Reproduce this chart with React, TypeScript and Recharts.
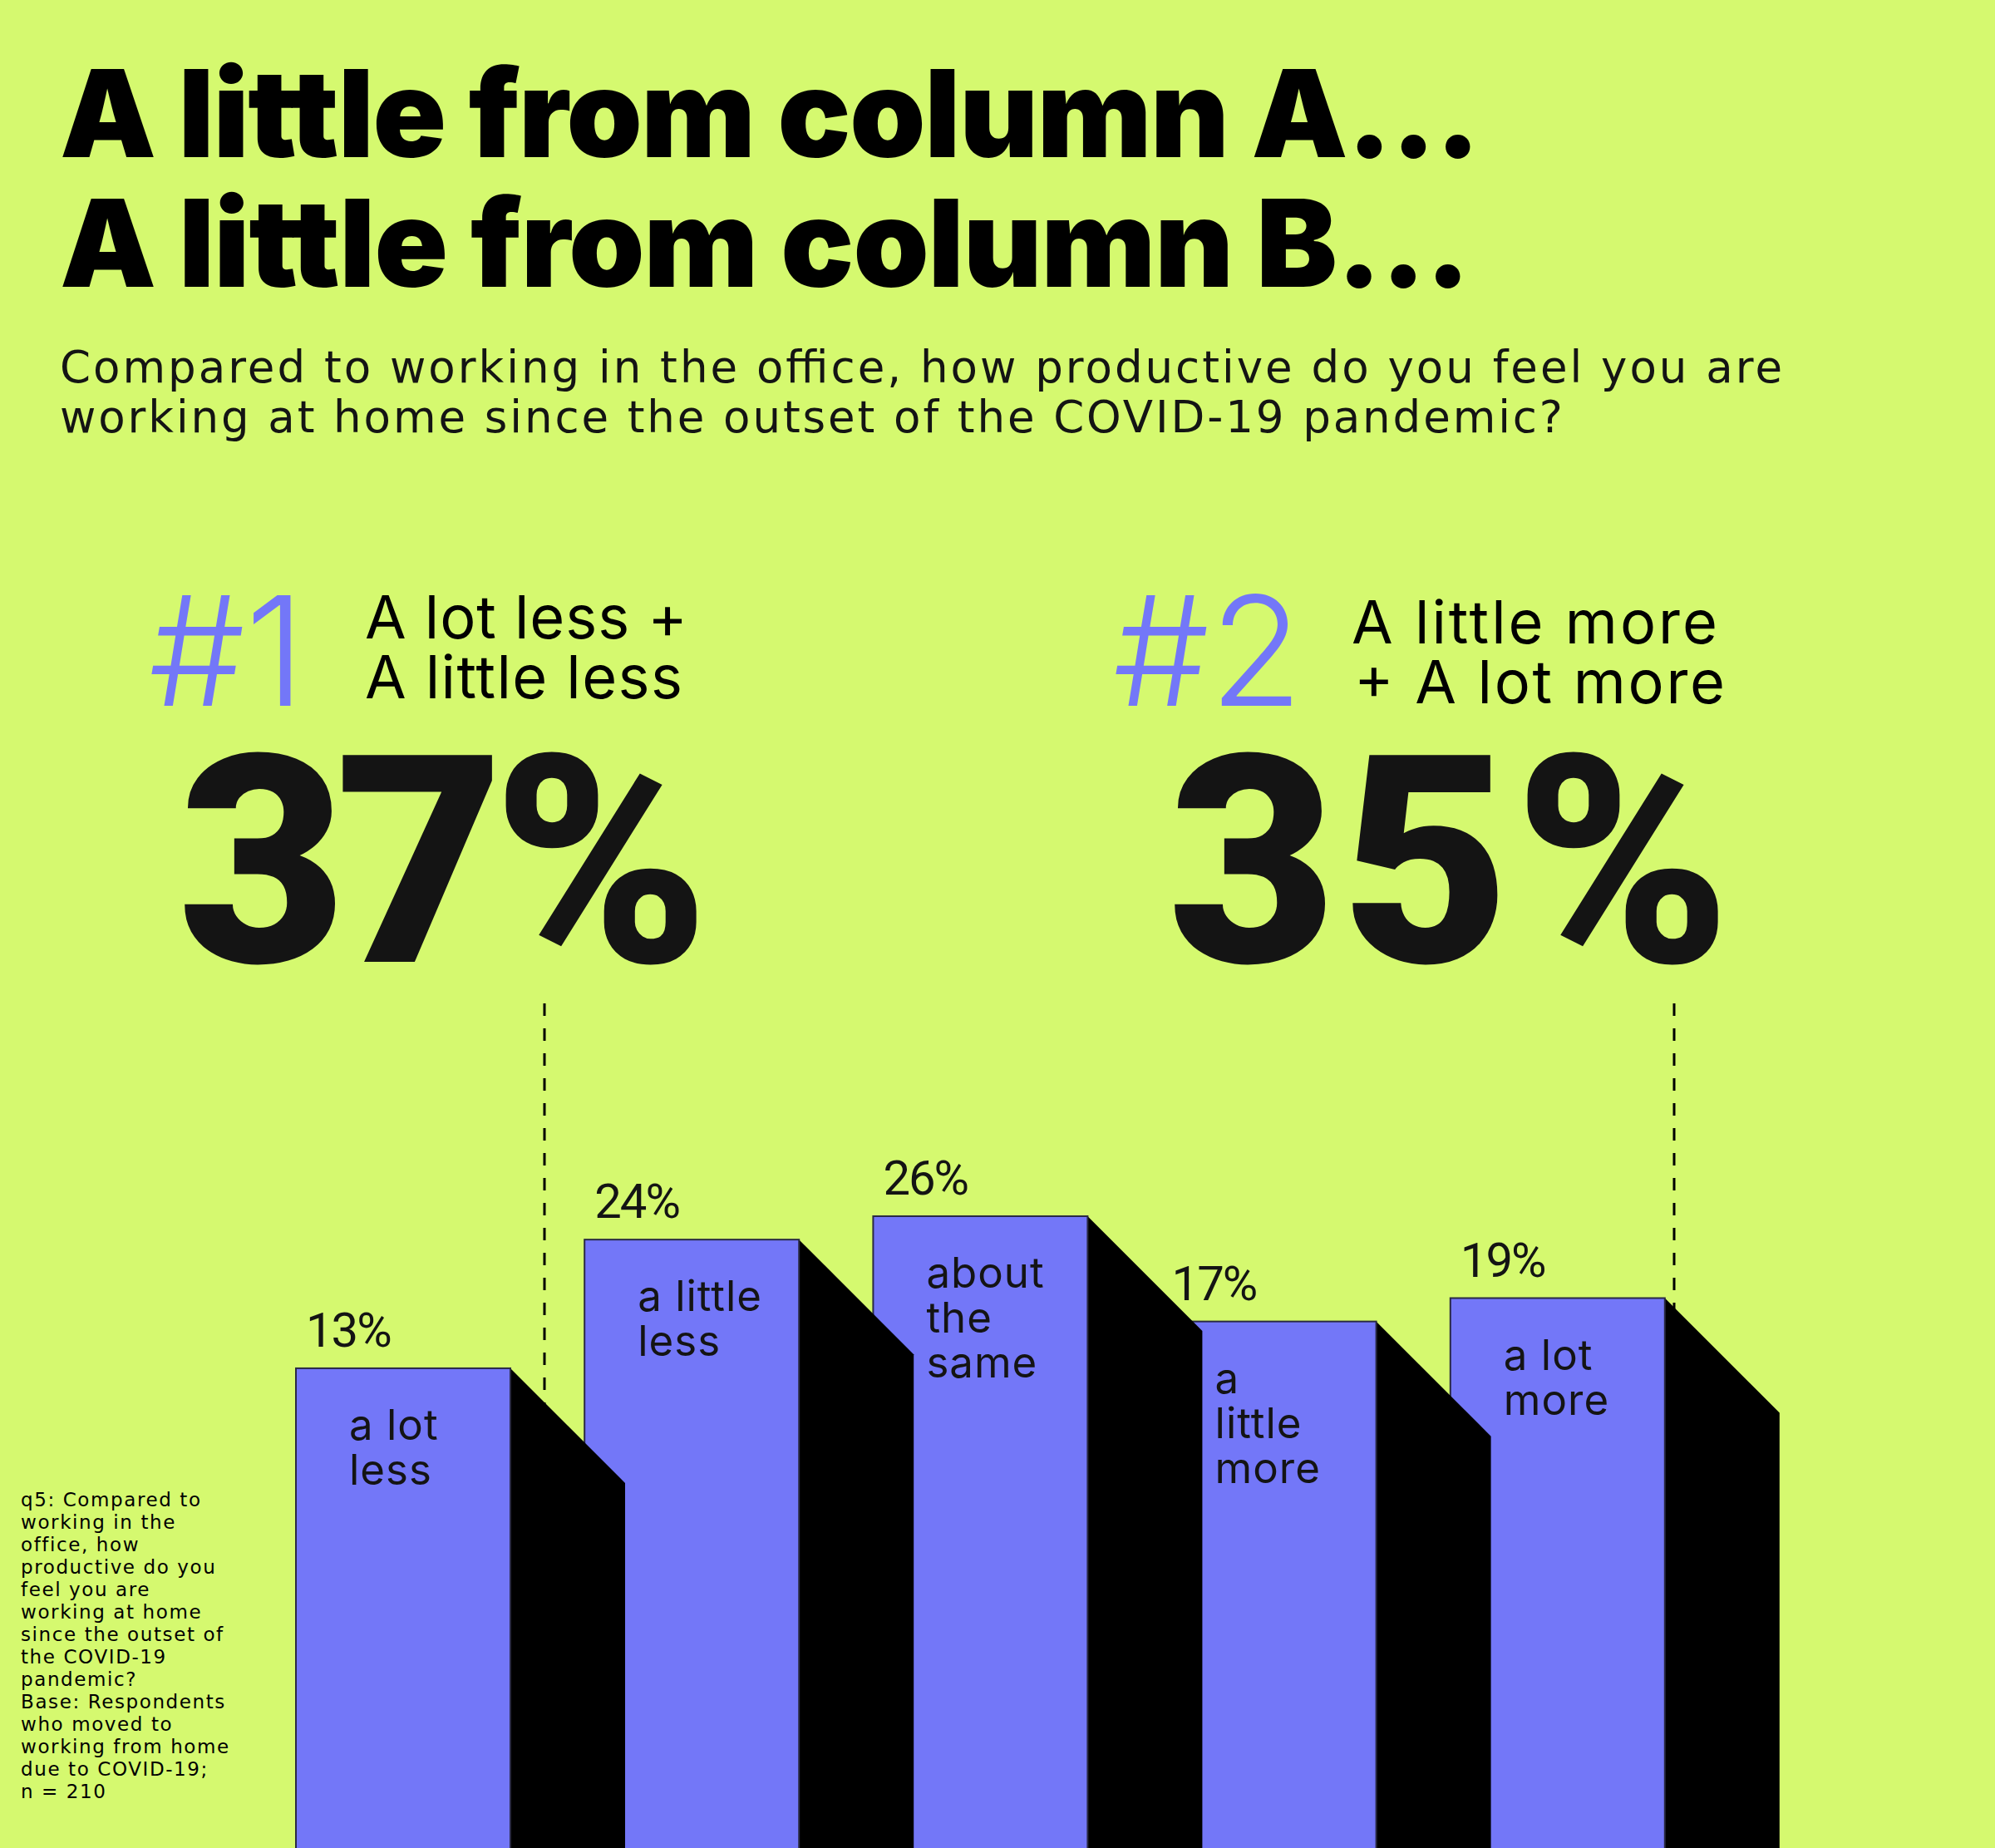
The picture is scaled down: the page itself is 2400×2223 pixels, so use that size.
import { BarChart, Bar, XAxis, YAxis, LabelList } from "recharts";

// answer options, left to right
const categories = ["a lot less", "a little less", "about the same", "a little more", "a lot more"];
const barLines = [["a lot", "less"], ["a little", "less"], ["about", "the", "same"], ["a", "little", "more"], ["a lot", "more"]];
const shares = [13, 24, 26, 17, 19];

const titleLines = ["A little from column A...", "A little from column B..."];
const subtitleLines = [
  "Compared to working in the office, how productive do you feel you are",
  "working at home since the outset of the COVID-19 pandemic?",
];
const rankTags = ["#1", "#2"];
const rankLabels = [["A lot less +", "A little less"], ["A little more", "+ A lot more"]];
const rankTotals = [37, 35];
const footnoteLines = [
  "q5: Compared to",
  "working in the",
  "office, how",
  "productive do you",
  "feel you are",
  "working at home",
  "since the outset of",
  "the COVID-19",
  "pandemic?",
  "Base: Respondents",
  "who moved to",
  "working from home",
  "due to COVID-19;",
  "n = 210",
];

const LIME = "#d5f96f";
const PURPLE = "#7377f8";
const INK = "#141414";
const W = 2400;
const H = 2223;
const CHART_H = 2251;
const SHADOW = 138;

// drawn right-to-left so each bar's shadow falls over its right neighbour
const rows = categories
  .map((c, i) => ({ key: c, value: shares[i], lines: barLines[i] }))
  .reverse();

function ShadowBar(props: any) {
  const { x, y, width, background } = props;
  const lines: string[] = props.lines || props.payload?.lines || [];
  const bottom = background ? background.y + background.height : CHART_H;
  const r = x + width;
  return (
    <g>
      <path
        d={`M${r},${y}L${r + SHADOW},${y + SHADOW}L${r + SHADOW},${bottom + 10}L${r},${bottom + 10}Z`}
        fill="#000"
      />
      <rect x={x} y={y} width={width} height={bottom - y + 10} fill={PURPLE} stroke="#2a2a44" strokeWidth={2} />
      {lines.map((t, j) => (
        <text
          key={j}
          x={x + 64}
          y={y + 86 + j * 54}
          fontFamily="Inter, sans-serif"
          fontSize={51}
          letterSpacing={1}
          fill={INK}
        >
          {t}
        </text>
      ))}
    </g>
  );
}

function ValueTag(p: any) {
  const vb = p.viewBox || {};
  const x = p.x ?? vb.x;
  const y = p.y ?? vb.y;
  return (
    <text x={x + 12} y={y - 26} fontFamily="Roboto, sans-serif" fontSize={58} letterSpacing={-2} fill={INK}>
      {p.value}%
    </text>
  );
}

export default function App() {
  const rankX = [179, 1339];
  const labelX = [[439, 439], [1626, 1629]];
  const labelW = [[388, 382], [440, 446]];
  const totalX = [214, 1405];
  const totalW = [639, 677];
  return (
    <div style={{ position: "absolute", left: 0, top: 0, width: W, height: H, overflow: "hidden", background: LIME }}>
      <svg width={W} height={H} style={{ position: "absolute", left: 0, top: 0 }}>
        {titleLines.map((t, i) => (
          <text
            key={t}
            x={72}
            y={189 + i * 156}
            fontFamily="Inter, sans-serif"
            fontWeight={900}
            fontSize={146}
            textLength={i === 0 ? 1709 : 1697}
            lengthAdjust="spacing"
            fill="#000"
          >
            {t}
          </text>
        ))}
        {subtitleLines.map((t, i) => (
          <text
            key={t}
            x={72}
            y={460 + i * 60}
            fontFamily="'DejaVu Sans', sans-serif"
            fontSize={53}
            textLength={i === 0 ? 2072 : 1808}
            lengthAdjust="spacing"
            fill={INK}
          >
            {t}
          </text>
        ))}
        {rankTags.map((t, i) => (
          <g key={t}>
            <text x={rankX[i]} y={849} fontFamily="Inter, sans-serif" fontWeight={300} fontSize={183} fill={PURPLE}>
              {t}
            </text>
            {rankLabels[i].map((l, j) => (
              <text
                key={l}
                x={labelX[i][j]}
                y={(i === 0 ? 768 : 774) + j * 72}
                fontFamily="Inter, sans-serif"
                fontSize={72}
                textLength={labelW[i][j]}
                lengthAdjust="spacing"
                fill="#000"
              >
                {l}
              </text>
            ))}
            <text
              x={totalX[i]}
              y={1157}
              fontFamily="Roboto, sans-serif"
              fontWeight={900}
              fontSize={350}
              textLength={totalW[i]}
              lengthAdjust="spacing"
              fill={INK}
            >
              {rankTotals[i]}%
            </text>
          </g>
        ))}
        <line x1={655} y1={1207} x2={655} y2={H} stroke="#000" strokeWidth={3} strokeDasharray="15 15" />
        <line x1={2014} y1={1207} x2={2014} y2={H} stroke="#000" strokeWidth={3} strokeDasharray="15 15" />
        {footnoteLines.map((t, i) => (
          <text
            key={i}
            x={25}
            y={1812 + i * 27}
            fontFamily="'DejaVu Sans', sans-serif"
            fontSize={23}
            letterSpacing={1.6}
            fill="#000"
          >
            {t}
          </text>
        ))}
      </svg>
      <div style={{ position: "absolute", left: 0, top: 0 }}>
        <BarChart
          width={W}
          height={CHART_H}
          data={rows}
          margin={{ top: 1266, right: 353, bottom: 0, left: 311 }}
        >
          <XAxis dataKey="key" type="category" reversed hide />
          <YAxis type="number" domain={[-30, 40]} allowDataOverflow tickCount={8} hide />
          <Bar dataKey="value" barSize={258} shape={ShadowBar} isAnimationActive={false}>
            <LabelList dataKey="value" content={ValueTag} />
          </Bar>
        </BarChart>
      </div>
    </div>
  );
}
